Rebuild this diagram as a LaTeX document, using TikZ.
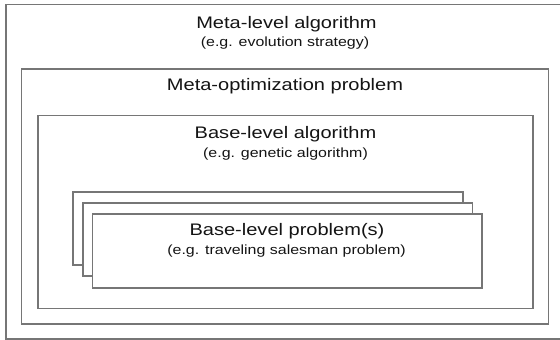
\documentclass[tikz,border=0pt]{standalone}
\usepackage{fontspec}
\setmainfont{Liberation Sans}[FakeStretch=1.2]
\begin{document}
\begin{tikzpicture}[x=1pt,y=1pt,
  box/.style={draw={rgb,255:red,118;green,118;blue,118}, line width=1.3pt, fill=white,
    inner sep=0pt, outer sep=0pt, anchor=north west},
  ttl/.style={anchor=base, inner sep=0pt, text={rgb,255:red,20;green,20;blue,20},
    font=\fontsize{16.7}{20}\selectfont},
  sub/.style={anchor=base, inner sep=0pt, text={rgb,255:red,20;green,20;blue,20},
    font=\fontsize{13.3}{15}\selectfont}]
\useasboundingbox (0,0) rectangle (560,-340);
\clip (0,0) rectangle (560,-340);
% boxes
\node[box, minimum width=570, minimum height=334.5] (outer) at (6,-4.5) {};
\node[box, minimum width=527, minimum height=255] (meta) at (21.5,-69) {};
\node[box, minimum width=495, minimum height=193] (algo) at (38,-115.5) {};
\node[box, minimum width=390, minimum height=73] (back) at (73,-192) {};
\node[box, minimum width=389.5, minimum height=73] (mid) at (83,-203) {};
\node[box, minimum width=389.5, minimum height=74] (front) at (92.5,-214) {};
% texts
\node[ttl] (t1) at (286.5,-28) {Meta-level algorithm};
\node[sub] (s1) at (285,-46) {(e.g. evolution strategy)};
\node[ttl] (t2) at (285,-90) {Meta-optimization problem};
\node[ttl] (t3) at (285.5,-138.5) {Base-level algorithm};
\node[sub] (s3) at (285.5,-157) {(e.g. genetic algorithm)};
\node[ttl] (t4) at (287,-235) {Base-level problem(s)};
\node[sub] (s4) at (286.5,-254) {(e.g. traveling salesman problem)};
\end{tikzpicture}
\end{document}
